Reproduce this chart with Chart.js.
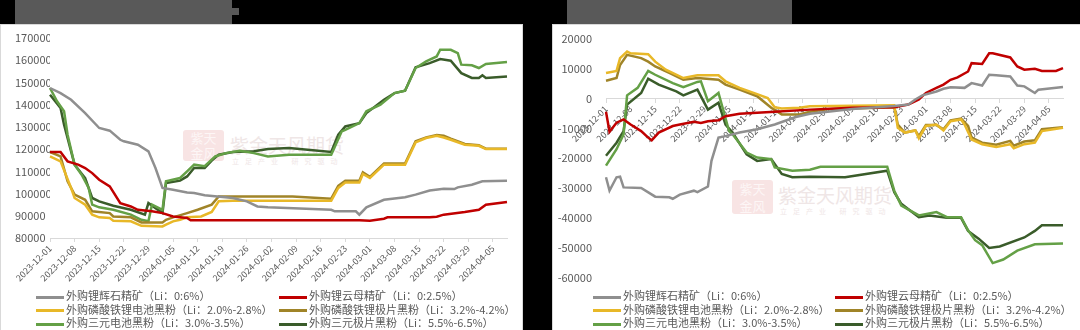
<!DOCTYPE html>
<html>
<head>
<meta charset="utf-8">
<script src="https://cdn.jsdelivr.net/npm/chart.js@4.4.1/dist/chart.umd.min.js"></script>
<style>
    body { margin: 0; width: 1080px; height: 330px; background: #000; position: relative; overflow: hidden;
           font-family: "Noto Sans CJK SC", "Noto Sans", sans-serif; }
    .bar { position: absolute; background: #595959; }
    .panel { position: absolute; background: #fff; border: 1px solid #d9d9d9; box-sizing: border-box; }
    .box { position: absolute; }
    .wm { position: absolute; color: #efe6e6; white-space: nowrap; }
    .seal { position: absolute; background: #f8e4e4; border-radius: 3px; color: #fdf6f6; font-size: 13px;
            line-height: 15px; text-align: center; }
    .item { position: absolute; white-space: nowrap; font-size: 11px; line-height: 13px; color: #595959; }
    .sw { display: inline-block; width: 28px; height: 3px; vertical-align: middle; margin-right: 2px; }
</style>
</head>
<body>
<div class="bar" style="left:15px;top:0;width:217px;height:24px"></div>
<div class="bar" style="left:232px;top:8px;width:7px;height:7px"></div>
<div class="bar" style="left:567px;top:0;width:225px;height:24px"></div>
<div class="panel" style="left:0;top:24px;width:523px;height:310px"></div>
<div class="panel" style="left:552px;top:24px;width:530px;height:310px"></div>

<div class="seal" style="left:183px;top:130px;width:41px;height:31px">紫天<br>金风</div>
<div class="wm" style="left:230px;top:131px;font-size:19px">紫金天风期货</div>
<div class="wm" style="left:232px;top:156px;font-size:7px;letter-spacing:6px">立足产业 研究驱动</div>
<div class="seal" style="left:732px;top:180px;width:41px;height:34px;line-height:17px">紫天<br>金风</div>
<div class="wm" style="left:778px;top:181px;font-size:19px">紫金天风期货</div>
<div class="wm" style="left:780px;top:206px;font-size:7px;letter-spacing:6px">立足产业 研究驱动</div>

<div class="box" style="left:0;top:24px;width:523px;height:266px"><canvas id="price" width="523" height="266"></canvas></div>
<div class="box" style="left:552px;top:24px;width:528px;height:266px"><canvas id="spread" width="528" height="266"></canvas></div>
<div id="legend-price"></div>
<div id="legend-spread"></div>

<script>
// category axis: every calendar day 2023-12-01 .. 2024-04-09
const days = [];
for (let t = Date.UTC(2023, 11, 1); t <= Date.UTC(2024, 3, 9); t += 86400000) {
    days.push(new Date(t).toISOString().slice(0, 10));
}

const names = [
    '外购锂辉石精矿（Li：0:6%）',
    '外购锂云母精矿（Li：0:2.5%）',
    '外购磷酸铁锂电池黑粉（Li：2.0%-2.8%）',
    '外购磷酸铁锂极片黑粉（Li：3.2%-4.2%）',
    '外购三元电池黑粉（Li：3.0%-3.5%）',
    '外购三元极片黑粉（Li：5.5%-6.5%）',
];
const colors = ['#8f8f8f', '#c00000', '#e8b828', '#a08428', '#64a046', '#3a5c2a'];

// left chart: prices (yuan/t), [MM-DD, value]
const spodPrice = [['12-01',147500],['12-04',145200],['12-07',142200],['12-11',136200],['12-15',129500],['12-18',128300],
    ['12-21',124200],['12-22',123500],['12-26',122000],['12-29',119000],['12-31',111500],['01-02',102500],['01-05',101700],
    ['01-09',100500],['01-11',100200],['01-14',99200],['01-22',98000],['01-26',96500],['01-29',94200],['02-01',93800],
    ['02-19',92700],['02-20',92000],['02-26',92000],['02-27',90500],['02-29',93800],['03-05',97200],['03-11',98300],
    ['03-14',99500],['03-18',101400],['03-22',102200],['03-25',102000],['03-26',102800],['03-30',104000],['04-02',105500],
    ['04-09',105800]];
const lepiPrice = [['12-01',118700],['12-04',118700],['12-06',114500],['12-09',113000],['12-11',111500],['12-13',109200],
    ['12-15',106200],['12-18',103200],['12-21',95700],['12-24',94200],['12-26',92700],['12-30',92000],['01-02',91200],
    ['01-05',89700],['01-09',89000],['01-10',88000],['02-27',88000],['03-01',87800],['03-05',88700],['03-06',89300],
    ['03-18',89300],['03-20',89600],['03-22',90500],['03-28',91700],['04-01',92700],['04-03',95000],['04-09',96200]];
const lfpCellPrice = [['12-01',116700],['12-04',114500],['12-07',102500],['12-08',98000],['12-11',95000],['12-13',90500],
    ['12-15',89300],['12-18',89000],['12-19',87800],['12-24',87500],['12-27',85500],['01-02',85200],['01-03',86000],
    ['01-05',87500],['01-07',88200],['01-09',89300],['01-13',89700],['01-16',91700],['01-18',96500],['01-22',96800],
    ['02-19',96800],['02-21',102500],['02-23',105000],['02-27',105000],['02-28',108800],['03-01',107000],['03-05',113000],
    ['03-11',113000],['03-14',123000],['03-17',125000],['03-20',126000],['03-22',125200],['03-24',124200],['03-28',122000],
    ['04-01',121500],['04-03',120000],['04-09',120000]];
const lfpSheetPrice = [['12-01',118700],['12-04',116700],['12-06',105500],['12-08',99500],['12-11',97200],['12-13',92000],
    ['12-18',91200],['12-19',89700],['12-24',89300],['12-27',87000],['01-02',87000],['01-03',88200],['01-05',89300],
    ['01-09',91200],['01-12',92700],['01-16',95000],['01-18',98700],['02-08',98700],['02-19',97700],['02-21',103500],
    ['02-23',105800],['02-27',105800],['02-28',109500],['03-01',107500],['03-05',113500],['03-11',113500],['03-14',123500],
    ['03-17',125300],['03-20',126300],['03-22',126000],['03-24',124700],['03-28',122300],['04-01',121700],['04-03',120200],
    ['04-09',120200]];
const ncmCellPrice = [['12-01',147500],['12-03',141500],['12-05',137000],['12-06',126500],['12-08',113000],['12-10',108500],
    ['12-12',102500],['12-13',95000],['12-15',93800],['12-19',92700],['12-24',90500],['12-27',88200],['12-29',87500],
    ['12-30',95000],['01-02',92700],['01-03',105500],['01-07',107000],['01-09',110000],['01-11',113000],['01-14',112300],
    ['01-17',116700],['01-20',118200],['01-24',119300],['01-28',118200],['02-01',116700],['02-07',117500],['02-19',117500],
    ['02-22',128000],['02-23',128700],['02-27',131700],['02-29',137000],['03-04',140000],['03-08',145200],['03-11',146300],
    ['03-14',156500],['03-17',159500],['03-20',161700],['03-21',164700],['03-24',164700],['03-26',163200],['03-27',158000],
    ['03-30',157700],['04-01',156500],['04-03',158300],['04-09',159200]];
const ncmSheetPrice = [['12-01',144500],['12-04',138500],['12-05',131000],['12-07',119000],['12-08',113000],['12-11',107000],
    ['12-13',98000],['12-15',96500],['12-19',94500],['12-24',92700],['12-28',90500],['12-29',95700],['01-02',91200],
    ['01-03',104700],['01-07',105800],['01-09',107700],['01-11',111500],['01-14',111500],['01-16',114800],['01-18',117500],
    ['01-22',118700],['01-28',119000],['02-01',120000],['02-07',120500],['02-19',118700],['02-21',126500],['02-23',130200],
    ['02-27',131700],['02-29',136200],['03-05',142200],['03-08',145200],['03-11',146300],['03-14',156800],['03-18',158700],
    ['03-21',160500],['03-24',159800],['03-27',154200],['03-30',152000],['04-01',152000],['04-02',153200],['04-03',152000],
    ['04-09',152700]];

// right chart: spreads (yuan/t), [MM-DD, value]
const spodSpread = [['12-01',-26400],['12-02',-30900],['12-04',-26400],['12-05',-26200],['12-06',-29800],['12-11',-30000],
    ['12-15',-32900],['12-19',-33100],['12-20',-33600],['12-22',-32200],['12-26',-30900],['12-27',-31400],['12-30',-29500],
    ['12-31',-20900],['01-02',-13100],['01-04',-12600],['01-08',-11400],['01-13',-10300],['01-18',-8700],['01-24',-6200],
    ['01-28',-5100],['02-09',-3500],['02-21',-2500],['02-25',-2000],['02-27',-300],['02-29',1100],['03-04',2400],
    ['03-06',3300],['03-08',3800],['03-12',3600],['03-14',5200],['03-17',4400],['03-19',8000],['03-21',7800],
    ['03-25',7400],['03-27',4400],['03-29',4100],['04-01',1900],['04-02',3000],['04-09',3900]];
const lepiSpread = [['12-01',-4400],['12-02',-11100],['12-04',-8100],['12-06',-7000],['12-08',-8700],['12-11',-10900],
    ['12-13',-13100],['12-14',-14000],['12-16',-11400],['12-20',-9200],['12-22',-8700],['12-26',-7800],['12-28',-8200],
    ['12-30',-7600],['01-02',-7300],['01-04',-5900],['01-08',-5100],['01-18',-4400],['01-28',-3700],['02-09',-3100],
    ['02-21',-2900],['02-25',-2000],['02-28',-300],['03-01',1900],['03-04',3600],['03-06',4700],['03-08',6300],
    ['03-10',7100],['03-13',9100],['03-14',11900],['03-17',11600],['03-19',15200],['03-20',15200],['03-25',13800],
    ['03-27',10800],['03-29',9700],['04-01',10000],['04-03',9300],['04-07',9300],['04-09',10200]];
const lfpCellSpread = [['12-01',8600],['12-04',9300],['12-05',13600],['12-07',15800],['12-08',15200],['12-13',14900],
    ['12-15',12400],['12-18',9700],['12-23',6900],['12-27',7800],['01-02',7800],['01-04',5800],['01-08',3600],
    ['01-12',1900],['01-16',200],['01-18',-2900],['01-20',-3300],['01-25',-3100],['01-28',-2600],['02-21',-2200],
    ['02-22',-9800],['02-24',-11400],['02-27',-10700],['02-28',-13300],['03-01',-9200],['03-04',-8700],['03-06',-10700],
    ['03-08',-7600],['03-11',-7000],['03-12',-8700],['03-14',-13700],['03-17',-15300],['03-21',-16200],['03-25',-15300],
    ['03-26',-16700],['03-29',-15300],['04-01',-14800],['04-03',-10900],['04-09',-9800]];
const lfpSheetSpread = [['12-01',6000],['12-04',6900],['12-05',11300],['12-07',14700],['12-11',13600],['12-13',12400],
    ['12-15',10800],['12-19',8600],['12-23',6300],['12-27',6900],['01-02',6300],['01-04',4700],['01-08',3000],
    ['01-13',800],['01-17',-3100],['01-20',-5300],['01-25',-5300],['01-28',-4400],['02-02',-3600],['02-21',-2900],
    ['02-22',-8700],['02-24',-11400],['02-27',-10700],['02-28',-12600],['03-01',-8900],['03-04',-8900],['03-06',-10300],
    ['03-08',-7300],['03-11',-6700],['03-13',-9200],['03-14',-13100],['03-17',-14800],['03-21',-15500],['03-25',-14200],
    ['03-26',-15800],['03-29',-14400],['04-01',-14000],['04-03',-10300],['04-09',-9600]];
const ncmCellSpread = [['12-01',-22500],['12-04',-17000],['12-06',-12000],['12-07',1100],['12-10',3600],['12-13',9300],
    ['12-15',8000],['12-20',5200],['12-23',3800],['12-27',5600],['12-28',5800],['12-30',-900],['01-02',1900],
    ['01-05',-10900],['01-06',-12000],['01-10',-18100],['01-13',-19800],['01-17',-20300],['01-18',-23100],['01-23',-24200],
    ['01-28',-23900],['01-31',-22900],['02-19',-22900],['02-21',-30900],['02-23',-35900],['02-28',-39200],['03-04',-38100],
    ['03-07',-39800],['03-11',-39800],['03-13',-44200],['03-15',-47500],['03-17',-49200],['03-20',-55200],['03-23',-54000],
    ['03-27',-51000],['04-01',-48900],['04-09',-48600]];
const ncmSheetSpread = [['12-01',-19200],['12-04',-14800],['12-06',-10900],['12-07',-2000],['12-11',1900],['12-13',6700],
    ['12-16',4700],['12-21',2400],['12-23',1100],['12-27',3000],['12-30',-3700],['01-02',-1400],['01-04',-8700],
    ['01-06',-11400],['01-10',-18700],['01-13',-20900],['01-17',-20300],['01-20',-25300],['01-23',-26400],['01-28',-26200],
    ['02-07',-26400],['02-19',-24200],['02-21',-31400],['02-23',-35300],['02-28',-39800],['03-02',-39200],['03-07',-40000],
    ['03-11',-40000],['03-13',-44400],['03-16',-47000],['03-19',-50100],['03-22',-49600],['03-29',-46600],['04-01',-44400],
    ['04-03',-42500],['04-09',-42500]];

const toPoints = (arr) => arr.map(([md, y]) => ({ x: (md.startsWith('12') ? '2023-' : '2024-') + md, y }));

const makeDatasets = (series) => series.map((s, i) => ({
    label: names[i],
    data: toPoints(s),
    borderColor: colors[i],
    backgroundColor: colors[i],
    borderWidth: 2.5,
    pointRadius: 0,
    tension: 0,
    fill: false,
}));

const tickFont = { family: '"Noto Sans CJK SC", "Noto Sans", sans-serif', size: 11 };

const xAxis = (position) => ({
    type: 'category',
    position,
    offset: false,
    afterBuildTicks: (scale) => { scale.ticks = scale.ticks.filter((t) => t.value % 7 === 0); },
    ticks: { autoSkip: false, minRotation: 45, maxRotation: 45, color: '#595959', font: { ...tickFont, size: 9 }, padding: 1 },
    grid: { display: true, drawOnChartArea: false, drawTicks: true, tickLength: 4, color: '#d9d9d9' },
    border: { display: true, color: '#d9d9d9' },
});

// price chart
new Chart(document.getElementById('price').getContext('2d'), {
    type: 'line',
    data: { labels: days, datasets: makeDatasets([spodPrice, lepiPrice, lfpCellPrice, lfpSheetPrice, ncmCellPrice, ncmSheetPrice]) },
    options: {
        responsive: false,
        animation: false,
        layout: { padding: { left: 15, top: 14, right: 16, bottom: 0 } },
        plugins: { legend: { display: false }, tooltip: { enabled: false } },
        scales: {
            x: { ...xAxis('bottom'), afterFit: (s) => { s.height = 52; } },
            y: {
                min: 80000, max: 170000,
                ticks: { stepSize: 10000, color: '#595959', font: tickFont, crossAlign: 'far', callback: (v) => String(v) },
                grid: { display: false },
                border: { display: false },
                afterFit: (s) => { s.width = 35; },
            },
        },
    },
});

// spread chart
new Chart(document.getElementById('spread').getContext('2d'), {
    type: 'line',
    data: { labels: days, datasets: makeDatasets([spodSpread, lepiSpread, lfpCellSpread, lfpSheetSpread, ncmCellSpread, ncmSheetSpread]) },
    options: {
        responsive: false,
        animation: false,
        layout: { padding: { left: 0, top: 15, right: 17, bottom: 9 } },
        plugins: { legend: { display: false }, tooltip: { enabled: false } },
        scales: {
            x: xAxis({ y: 0 }),
            y: {
                min: -60000, max: 20000,
                ticks: { stepSize: 10000, color: '#595959', font: tickFont, padding: 6, callback: (v) => String(v) },
                grid: { display: false },
                border: { display: false },
                afterFit: (s) => { s.width = 54; },
            },
        },
    },
});

// html legends, two columns x three rows
const buildLegend = (id, col1, col2) => {
    const el = document.getElementById(id);
    names.forEach((n, i) => {
        const item = document.createElement('div');
        item.className = 'item';
        item.style.left = (i % 2 === 0 ? col1 : col2) + 'px';
        item.style.top = (289 + Math.floor(i / 2) * 13.5) + 'px';
        item.innerHTML = `<span class="sw" style="background:${colors[i]}"></span>${n}`;
        el.appendChild(item);
    });
};
buildLegend('legend-price', 36, 279);
buildLegend('legend-spread', 593, 835);
</script>
</body>
</html>
